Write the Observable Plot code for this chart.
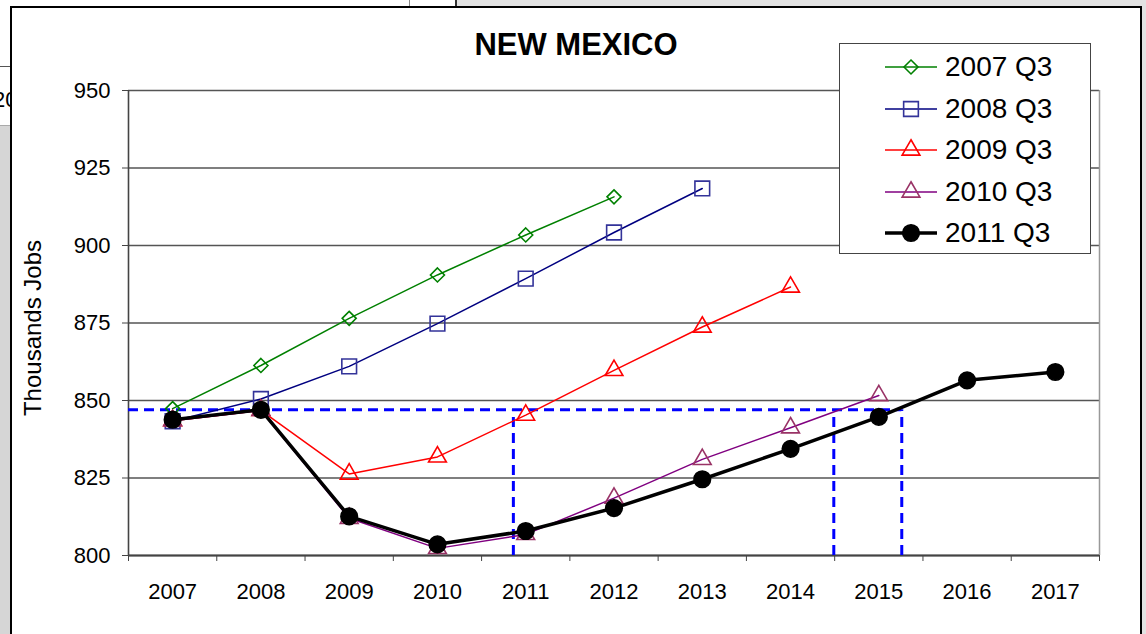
<!DOCTYPE html>
<html>
<head>
<meta charset="utf-8">
<script src="https://cdn.jsdelivr.net/npm/d3@7"></script>
<script src="https://cdn.jsdelivr.net/npm/@observablehq/plot@0.6"></script>
<style>
  html, body { margin: 0; padding: 0; width: 1146px; height: 634px; overflow: hidden; background: #e2e2e2; font-family: Arial, "Liberation Sans", sans-serif; }
  #topstrip { position: absolute; left: 0; top: 0; width: 455px; height: 6px; background: #fff; border-right: 2px solid #333; }
  #topline { position: absolute; left: 409px; top: 0; width: 0; height: 6px; border-left: 1px solid #888; }
  #lefttop { position: absolute; left: 0; top: 0; width: 10px; height: 66px; background: #fff; }
  #leftcell { position: absolute; left: 0; top: 66px; width: 10px; height: 58px; background: #fff; border-top: 1px solid #555; border-bottom: 2px solid #aaa; overflow: hidden; }
  #leftcell span { position: absolute; left: -7px; top: 20px; font-size: 22px; color: #000; }
  #leftstrip { position: absolute; left: 0; top: 126px; width: 10px; height: 520px; background: #d6d6d6; }
  #panel { position: absolute; left: 10px; top: 6px; width: 1132px; height: 700px; box-sizing: border-box; background: #fff; border: 2px solid #000; }
  #chart { position: absolute; left: 0; top: 0; }
  #title { position: absolute; left: 10px; width: 1132px; top: 27px; text-align: center; font-weight: bold; font-size: 31px; line-height: 36px; color: #000; }
  #legend { position: absolute; left: 839px; top: 43px; width: 252px; height: 211px; box-sizing: border-box; background: #fff; border: 1.5px solid #444; }
  .item { position: absolute; left: 44px; height: 34px; display: flex; align-items: center; font-size: 28px; color: #000; }
  .item svg { margin-right: 7px; }
</style>
</head>
<body>
<div id="topstrip"></div>
<div id="topline"></div>
<div id="lefttop"></div>
<div id="leftcell"><span>20</span></div>
<div id="leftstrip"></div>
<div id="panel"></div>
<div id="chart"></div>
<div id="title">NEW MEXICO</div>
<div id="legend"></div>
<script>
// Forecast years shown on the x axis
const years = [2007, 2008, 2009, 2010, 2011, 2012, 2013, 2014, 2015, 2016, 2017];
const yTicks = [800, 825, 850, 875, 900, 925, 950];

// Employment forecasts (thousands of jobs), one vintage per series
const seriesNames = ["2007 Q3", "2008 Q3", "2009 Q3", "2010 Q3", "2011 Q3"];
const q3_2007 = [847.4, 861.3, 876.5, 890.5, 903.4, 915.7];
const q3_2008 = [843.3, 850.5, 861.0, 874.8, 889.3, 904.2, 918.4];
const q3_2009 = [843.5, 846.8, 826.3, 831.8, 845.3, 859.7, 873.7, 886.6];
const q3_2010 = [843.5, 846.8, 812.0, 802.3, 806.8, 818.5, 831.0, 841.2, 851.6];
const q3_2011 = [843.8, 847.0, 812.6, 803.6, 807.9, 815.3, 824.6, 834.4, 844.7, 856.5, 859.2];

// Reference lines: the 2008 job level and where forecasts return to it
const baseLevel = 847;
const returnYears = [2010.86, 2014.49, 2015.26];

const seriesValues = [q3_2007, q3_2008, q3_2009, q3_2010, q3_2011];
const seriesStyle = [
  {line: "#008000", marker: "#008000", symbol: "diamond2", r: 6.3, width: 1.5, fill: "none"},
  {line: "#000080", marker: "#333399", symbol: "square", r: 8.3, width: 1.5, fill: "none"},
  {line: "#ff0000", marker: "#ff0000", symbol: "triangle", r: 6.6, width: 1.5, fill: "none"},
  {line: "#800080", marker: "#993366", symbol: "triangle", r: 6.6, width: 1.5, fill: "none"},
  {line: "#000000", marker: "#000000", symbol: "circle", r: 8.3, width: 3.5, fill: "#000000"}
];

const rows = seriesValues.map((vals, i) => vals.map((v, j) => ({series: seriesNames[i], year: years[j], value: v})));

const seriesMarks = rows.flatMap((data, i) => {
  const s = seriesStyle[i];
  return [
    Plot.line(data, {x: "year", y: "value", stroke: s.line, strokeWidth: s.width, strokeLinejoin: "round"}),
    Plot.dot(data, {x: "year", y: "value", symbol: () => s.symbol, r: s.r, stroke: s.marker, strokeWidth: 1.6, fill: s.fill})
  ];
});

const boundaries = d3.range(years[0] - 0.5, years[years.length - 1] + 1, 1);
const font = "Arial, 'Liberation Sans', sans-serif";

const chart = Plot.plot({
  width: 1146,
  height: 634,
  marginLeft: 128,
  marginRight: 47,
  marginTop: 90,
  marginBottom: 79,
  style: {background: "transparent", fontFamily: font, fontSize: "22px", color: "#000", overflow: "visible"},
  x: {domain: [years[0] - 0.5, years[years.length - 1] + 0.5]},
  y: {domain: [800, 950]},
  symbol: {type: "identity"},
  marks: [
    Plot.gridY(yTicks, {stroke: "#555", strokeOpacity: 1, strokeWidth: 1.3}),
    Plot.ruleX([years[years.length - 1] + 0.5], {stroke: "#999", strokeWidth: 1.5}),
    Plot.axisY(yTicks, {tickSize: 6, tickPadding: 12, fontSize: 22, label: null, stroke: "#444"}),
    Plot.axisX(boundaries, {tickSize: 6, tickFormat: () => "", label: null, stroke: "#444"}),
    Plot.axisX(years, {tickSize: 0, tickPadding: 28, fontSize: 22, tickFormat: d => String(d), label: null}),
    Plot.ruleX([years[0] - 0.5], {stroke: "#444", strokeWidth: 1.6}),
    Plot.ruleY([800], {stroke: "#444", strokeWidth: 2}),
    Plot.ruleY([baseLevel], {x1: years[0] - 0.5, x2: returnYears[2], stroke: "#0000ff", strokeWidth: 3, strokeDasharray: "10,6"}),
    Plot.ruleX(returnYears, {y1: 800, y2: baseLevel, stroke: "#0000ff", strokeWidth: 3, strokeDasharray: "10,6"}),
    ...seriesMarks,
    Plot.text(["Thousands Jobs"], {frameAnchor: "left", textAnchor: "middle", rotate: -90, dx: -95, dy: 5, fontSize: 24, fill: "#000"})
  ]
});
document.getElementById("chart").appendChild(chart);

// Legend: a short line with the series marker, then its name
const legend = d3.select("#legend");
const symbolTypes = {diamond2: d3.symbolDiamond2, square: d3.symbolSquare, triangle: d3.symbolTriangle, circle: d3.symbolCircle};
seriesNames.forEach((name, i) => {
  const s = seriesStyle[i];
  const item = legend.append("div").attr("class", "item").style("top", `${6 + i * 41.6}px`);
  const svg = item.append("svg").attr("width", 54).attr("height", 24);
  svg.append("line").attr("x1", 1).attr("x2", 53).attr("y1", 12).attr("y2", 12)
    .attr("stroke", s.line).attr("stroke-width", s.width);
  svg.append("path").attr("transform", "translate(27,12)")
    .attr("d", d3.symbol(symbolTypes[s.symbol], Math.PI * s.r * s.r)())
    .attr("stroke", s.marker).attr("stroke-width", 1.6).attr("fill", s.fill === "none" ? "none" : s.fill);
  item.append("span").text(name);
});
</script>
</body>
</html>
